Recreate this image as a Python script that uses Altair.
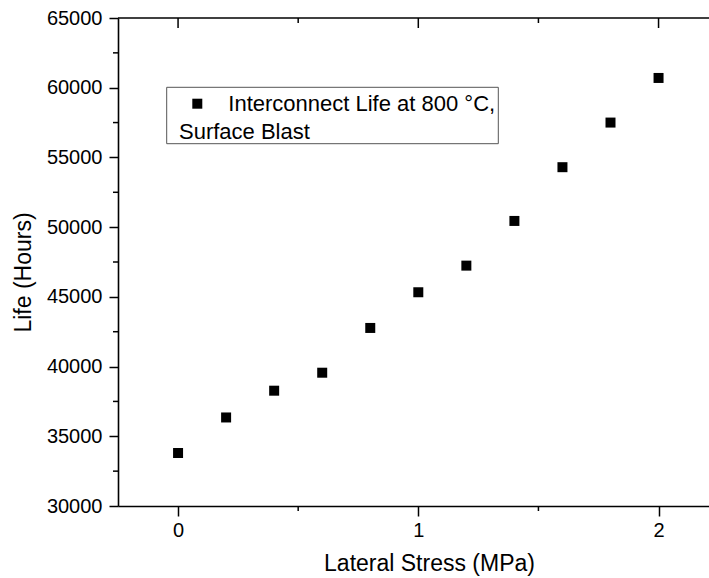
import altair as alt
import pandas as pd

# ---- data ----
stress = [0.0, 0.2, 0.4, 0.6, 0.8, 1.0, 1.2, 1.4, 1.6, 1.8, 2.0]
life = [33800, 36350, 38270, 39560, 42770, 45330, 47240, 50445, 54300, 57500, 60700]

x_major = [0, 1, 2]
x_minor = [0.5, 1.5]
y_major = [30000, 35000, 40000, 45000, 50000, 55000, 60000, 65000]
y_minor = [32500, 37500, 42500, 47500, 52500, 57500, 62500]

legend_line1 = "Interconnect Life at 800 °C,"
legend_line2 = "Surface Blast"
x_title = "Lateral Stress (MPa)"
y_title = "Life (Hours)"

FONT = "Liberation Sans"
W, H = 591, 488

xs = alt.Scale(domain=[-0.25, 2.21], nice=False, zero=False)
ys = alt.Scale(domain=[30000, 65000], nice=False, zero=False)

x_axis = alt.Axis(
    values=x_major, title=x_title, grid=False,
    tickSize=10, tickWidth=1.5, tickColor="black",
    domainColor="black", domainWidth=1.6,
    labelFont=FONT, labelFontSize=20, labelColor="black", labelPadding=4,
    titleFont=FONT, titleFontSize=23, titleFontWeight="normal", titleColor="black",
    titleX=311, titleY=64, titleBaseline="alphabetic", titleAlign="center",
)
y_axis = alt.Axis(
    values=y_major, format="d", title=y_title, grid=False,
    tickSize=9, tickWidth=1.5, tickColor="black",
    domainColor="black", domainWidth=1.6,
    labelFont=FONT, labelFontSize=20, labelColor="black", labelPadding=7,
    titleFont=FONT, titleFontSize=23, titleFontWeight="normal", titleColor="black",
    titleX=-95, titleY=254, titleAngle=270, titleAlign="center", titleBaseline="middle",
)

df = pd.DataFrame({"stress": stress, "life": life})

points = alt.Chart(df).mark_point(
    shape="square", filled=True, size=100, color="black", opacity=1
).encode(
    x=alt.X("stress:Q", scale=xs, axis=x_axis),
    y=alt.Y("life:Q", scale=ys, axis=y_axis),
)

# minor ticks bottom
bx_minor = alt.Chart(pd.DataFrame({"stress": x_minor})).mark_rule(color="black", strokeWidth=1.5).encode(
    x=alt.X("stress:Q", scale=xs, axis=x_axis), y=alt.value(H), y2=alt.value(H + 5)
)
# minor ticks left
ly_minor = alt.Chart(pd.DataFrame({"life": y_minor})).mark_rule(color="black", strokeWidth=1.5).encode(
    y=alt.Y("life:Q", scale=ys, axis=y_axis), x=alt.value(0), x2=alt.value(-5)
)
# top frame line
top_line = alt.Chart(pd.DataFrame({"a": [0]})).mark_rule(color="black", strokeWidth=1.6).encode(
    x=alt.value(0), x2=alt.value(W), y=alt.value(0)
)
# top ticks (inward)
top_major = alt.Chart(pd.DataFrame({"stress": x_major})).mark_rule(color="black", strokeWidth=1.5).encode(
    x=alt.X("stress:Q", scale=xs, axis=x_axis), y=alt.value(0), y2=alt.value(10)
)
top_minor = alt.Chart(pd.DataFrame({"stress": x_minor})).mark_rule(color="black", strokeWidth=1.5).encode(
    x=alt.X("stress:Q", scale=xs, axis=x_axis), y=alt.value(0), y2=alt.value(5)
)

# legend box
leg_df = pd.DataFrame({"a": [0]})
leg_box = alt.Chart(leg_df).mark_rect(fill="white", stroke="#555555", strokeWidth=1).encode(
    x=alt.value(48.7), x2=alt.value(380.3), y=alt.value(69.3), y2=alt.value(125.7)
)
leg_sym = alt.Chart(leg_df).mark_point(
    shape="square", filled=True, size=100, color="black", opacity=1
).encode(x=alt.value(79.3), y=alt.value(85.7))
leg_t1 = alt.Chart(leg_df).mark_text(
    align="left", baseline="alphabetic", font=FONT, fontSize=22, color="black"
).encode(x=alt.value(110.3), y=alt.value(93.3), text=alt.value(legend_line1))
leg_t2 = alt.Chart(leg_df).mark_text(
    align="left", baseline="alphabetic", font=FONT, fontSize=22, color="black"
).encode(x=alt.value(61), y=alt.value(120.7), text=alt.value(legend_line2))

chart = alt.layer(
    points, top_line, top_major, top_minor, bx_minor, ly_minor,
    leg_box, leg_sym, leg_t1, leg_t2
).properties(
    width=W, height=H,
    autosize=alt.AutoSizeParams(type="none"),
    padding={"left": 118, "top": 18, "right": 0, "bottom": 72},
    background="white",
).configure_view(strokeWidth=0)

chart.save("out.html", embed_options={"renderer": "svg", "actions": False})
